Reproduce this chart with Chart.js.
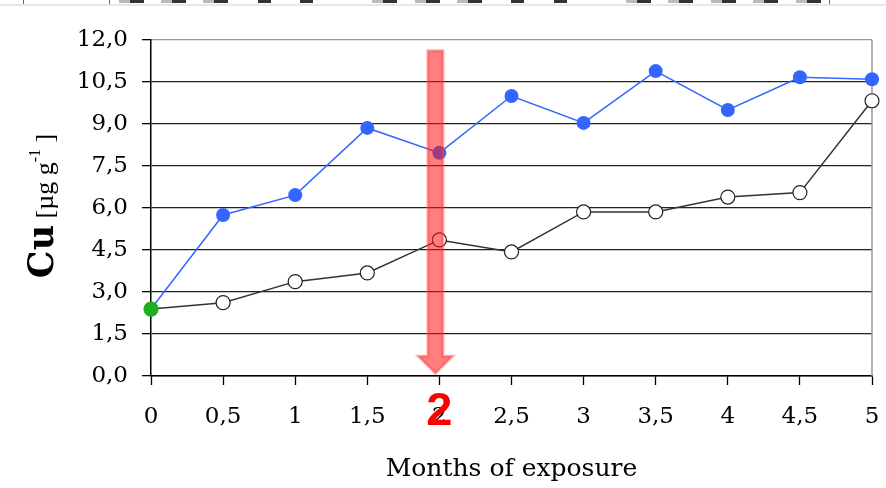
<!DOCTYPE html>
<html>
<head>
<meta charset="utf-8">
<script src="https://cdn.jsdelivr.net/npm/chart.js@4/dist/chart.umd.min.js"></script>
<style>
  html, body { margin: 0; padding: 0; background: #fff; }
  #wrap { width: 886px; height: 488px; position: relative; }
</style>
</head>
<body>
<div id="wrap"><canvas id="c" width="886" height="488"></canvas></div>
<script>
// Months of exposure (x values)
const months = [0, 0.5, 1, 1.5, 2, 2.5, 3, 3.5, 4, 4.5, 5];
// Cu concentration, µg g-1
const cuExposed = [2.39, 5.75, 6.46, 8.86, 7.97, 10.0, 9.04, 10.89, 9.5, 10.67, 10.6];
const cuControl = [2.39, 2.62, 3.37, 3.68, 4.86, 4.43, 5.86, 5.86, 6.39, 6.55, 9.83];
// Axis ticks
const yTicks = [0, 1.5, 3, 4.5, 6, 7.5, 9, 10.5, 12];
const xTicks = [0, 0.5, 1, 1.5, 2, 2.5, 3, 3.5, 4, 4.5, 5];
const markedMonth = 2;

const SERIF = "'DejaVu Serif', 'Liberation Serif', serif";
const SERIF_NARROW = "'Liberation Serif', 'DejaVu Serif', serif";
const BLUE = '#3366FF';
const GREEN = '#1FAE1F';

const toPoints = arr => months.map((m, i) => ({ x: m, y: arr[i] }));
const fmt = v => String(v).replace('.', ',');

// Header strip remnants across the top edge
const headerStrip = {
  id: 'headerStrip',
  beforeDraw(chart) {
    const ctx = chart.ctx;
    ctx.save();
    ctx.fillStyle = '#e9e9e1';
    ctx.fillRect(0, 4, chart.width, 2);
    const pairs = [119, 161, 203, 372, 415, 457, 626, 668, 711, 753, 796];
    const singles = [258, 300, 511, 554];
    ctx.fillStyle = '#bbb';
    pairs.forEach(x => ctx.fillRect(x, 0, 11, 3));
    ctx.fillStyle = '#333';
    pairs.forEach(x => ctx.fillRect(x + 11, 0, 14, 3));
    singles.forEach(x => ctx.fillRect(x, 0, 13, 3));
    ctx.fillStyle = '#666';
    [23, 109, 829].forEach(x => ctx.fillRect(x, 0, 1, 4));
    ctx.restore();
  }
};

// Right frame line and rotated y-axis title with mixed styles
const frameAndTitle = {
  id: 'frameAndTitle',
  beforeDatasetsDraw(chart) {
    const { ctx, chartArea } = chart;
    ctx.save();
    ctx.strokeStyle = '#999';
    ctx.lineWidth = 1.5;
    ctx.beginPath();
    ctx.moveTo(chartArea.right, chartArea.top);
    ctx.lineTo(chartArea.right, chartArea.bottom);
    ctx.stroke();
    ctx.restore();
  },
  afterDraw(chart) {
    const ctx = chart.ctx;
    const parts = [
      { t: 'Cu', f: 'bold 35px ' + SERIF, dy: 0 },
      { t: ' [µg g', f: '26px ' + SERIF_NARROW, dy: 0 },
      { t: '-1', f: '16px ' + SERIF_NARROW, dy: -13 },
      { t: ' ]', f: '26px ' + SERIF_NARROW, dy: 0 }
    ];
    ctx.save();
    let total = 0;
    parts.forEach(p => { ctx.font = p.f; p.w = ctx.measureText(p.t).width; total += p.w; });
    ctx.translate(53, 206);
    ctx.rotate(-Math.PI / 2);
    ctx.fillStyle = '#000';
    ctx.textBaseline = 'alphabetic';
    let x = -total / 2;
    parts.forEach(p => { ctx.font = p.f; ctx.fillText(p.t, x, p.dy); x += p.w; });
    ctx.restore();
  }
};

// Red arrow pointing down to the marked month, with a bold label
const markArrow = {
  id: 'markArrow',
  afterDatasetsDraw(chart) {
    const { ctx, scales } = chart;
    const cx = scales.x.getPixelForValue(markedMonth) - 4;
    const top = scales.y.getPixelForValue(11.62);
    const tip = scales.y.getPixelForValue(0.1);
    const headTop = tip - 17;
    const sw = 7.5, hw = 17;
    ctx.save();
    ctx.beginPath();
    ctx.moveTo(cx - sw, top);
    ctx.lineTo(cx + sw, top);
    ctx.lineTo(cx + sw, headTop);
    ctx.lineTo(cx + hw, headTop);
    ctx.lineTo(cx, tip);
    ctx.lineTo(cx - hw, headTop);
    ctx.lineTo(cx - sw, headTop);
    ctx.closePath();
    ctx.fillStyle = 'rgba(255, 20, 20, 0.55)';
    ctx.fill();
    ctx.lineWidth = 3;
    ctx.strokeStyle = 'rgba(255, 60, 60, 0.45)';
    ctx.stroke();
    ctx.restore();
  },
  afterDraw(chart) {
    const { ctx, scales } = chart;
    const cx = scales.x.getPixelForValue(markedMonth);
    ctx.save();
    ctx.font = "bold 47px 'Liberation Sans', Arial, sans-serif";
    ctx.fillStyle = '#ff0000';
    ctx.textAlign = 'center';
    ctx.textBaseline = 'alphabetic';
    ctx.fillText(String(markedMonth), cx, 425);
    ctx.restore();
  }
};

Chart.defaults.font.family = SERIF;
Chart.defaults.color = '#000';

new Chart(document.getElementById('c'), {
  type: 'line',
  data: {
    datasets: [
      {
        label: 'exposed',
        data: toPoints(cuExposed),
        borderColor: BLUE,
        borderWidth: 1.5,
        pointRadius: 7,
        pointBorderWidth: 0,
        pointBackgroundColor: months.map((m, i) => i === 0 ? GREEN : BLUE),
        pointBorderColor: months.map((m, i) => i === 0 ? GREEN : BLUE),
        clip: false,
        order: 1
      },
      {
        label: 'control',
        data: toPoints(cuControl),
        borderColor: '#333',
        borderWidth: 1.5,
        pointRadius: 7,
        pointBorderWidth: 1.2,
        pointBackgroundColor: months.map((m, i) => i === 0 ? GREEN : '#fff'),
        pointBorderColor: months.map((m, i) => i === 0 ? GREEN : '#222'),
        clip: false,
        order: 2
      }
    ]
  },
  options: {
    responsive: false,
    animation: false,
    events: [],
    layout: { autoPadding: false, padding: { top: 40, right: 14, left: 0, bottom: 0 } },
    plugins: { legend: { display: false }, tooltip: { enabled: false } },
    scales: {
      x: {
        type: 'linear',
        min: 0,
        max: 5,
        afterBuildTicks: s => { s.ticks = xTicks.map(v => ({ value: v })); },
        ticks: {
          callback: v => fmt(v),
          font: { size: 23, family: SERIF },
          color: '#000',
          padding: 18,
          maxRotation: 0,
          autoSkip: false
        },
        grid: { drawOnChartArea: false, drawTicks: true, tickLength: 9, tickColor: '#000', tickWidth: 1.3 },
        border: { color: '#000', width: 1.5 },
        title: {
          display: true,
          text: 'Months of exposure',
          font: { size: 25, family: SERIF },
          color: '#000',
          padding: { top: 20, bottom: 4 }
        },
        afterFit: s => { s.height = 112; s.paddingLeft = 0; s.paddingRight = 0; }
      },
      y: {
        min: 0,
        max: 12,
        afterBuildTicks: s => { s.ticks = yTicks.map(v => ({ value: v })); },
        ticks: {
          callback: v => v.toFixed(1).replace('.', ','),
          font: { size: 23, family: SERIF },
          color: '#000',
          padding: 14
        },
        grid: {
          color: c => (c.tick && c.tick.value === 12) ? '#999' : '#222',
          lineWidth: 1.3,
          tickLength: 9,
          tickColor: '#000',
          tickWidth: 1.3
        },
        border: { color: '#000', width: 1.5 },
        afterFit: s => { s.width = 151; s.paddingTop = 0; s.paddingBottom = 0; }
      }
    }
  },
  plugins: [headerStrip, frameAndTitle, markArrow]
});
</script>
</body>
</html>
